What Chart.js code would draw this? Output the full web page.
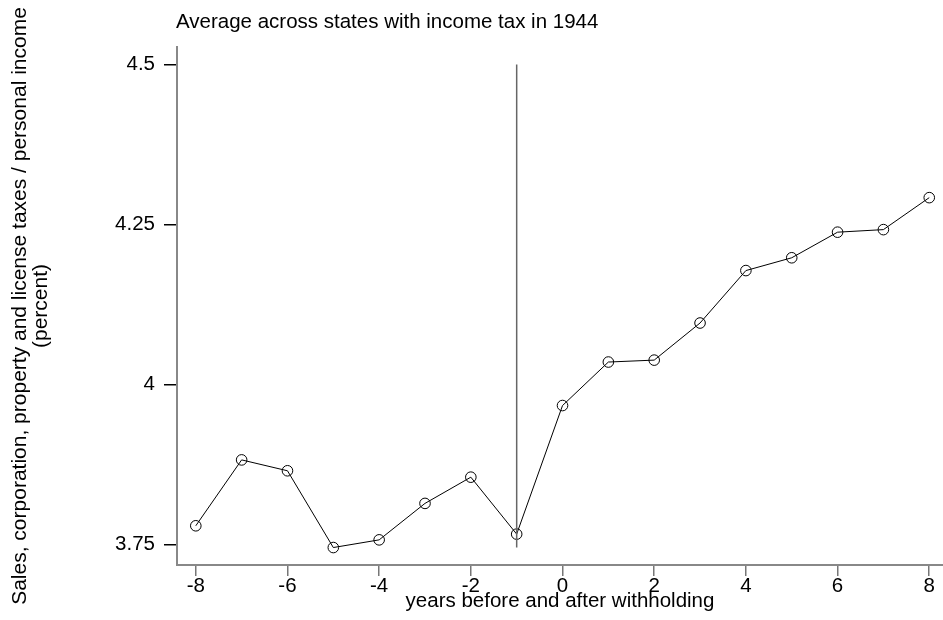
<!DOCTYPE html>
<html lang="en">

<head>
    <meta charset="UTF-8">
    <script src="https://cdn.jsdelivr.net/npm/chart.js"></script>
    <title>Other state taxes around withholding</title>
    <style>
        body { margin: 0; background: #fff; }
        #wrap { width: 943px; height: 620px; }
    </style>
</head>

<body>
    <div id="wrap">
        <canvas id="myChart" width="943" height="620"></canvas>
    </div>

    <script>
        // years relative to the introduction of withholding
        const years = [-8, -7, -6, -5, -4, -3, -2, -1, 0, 1, 2, 3, 4, 5, 6, 7, 8];
        // other taxes as percent of personal income, state average
        const otherTaxShare = [3.779, 3.882, 3.865, 3.745, 3.757, 3.814, 3.855, 3.766,
            3.967, 4.035, 4.038, 4.096, 4.178, 4.198, 4.238, 4.242, 4.292];
        const xTicks = [-8, -6, -4, -2, 0, 2, 4, 6, 8];
        const yTicks = [3.75, 4, 4.25, 4.5];
        const eventYear = -1;

        const FONT = "'Liberation Sans', Arial, sans-serif";
        const FONT_SIZE = 20.5;

        const points = years.map((x, i) => ({ x: x, y: otherTaxShare[i] }));
        // vertical marker from the lowest value up to the top tick
        const eventLine = [
            { x: eventYear, y: Math.min(...otherTaxShare) },
            { x: eventYear, y: 4.5 }
        ];

        // chart heading, left aligned with the plot area
        const headingPlugin = {
            id: 'heading',
            afterDraw(chart) {
                const ctx = chart.ctx;
                ctx.save();
                ctx.font = FONT_SIZE + 'px ' + FONT;
                ctx.fillStyle = '#000';
                ctx.textBaseline = 'middle';
                ctx.textAlign = 'left';
                ctx.fillText('Average across states with income tax in 1944', chart.chartArea.left - 1, 22);
                ctx.restore();
            }
        };

        const ctx = document.getElementById('myChart').getContext('2d');
        const myChart = new Chart(ctx, {
            type: 'scatter',
            data: {
                datasets: [{
                    label: 'withholding',
                    data: eventLine,
                    showLine: true,
                    borderColor: '#666',
                    borderWidth: 1.5,
                    pointRadius: 0
                },
                {
                    label: 'share',
                    data: points,
                    showLine: true,
                    borderColor: '#000',
                    borderWidth: 1,
                    pointStyle: 'circle',
                    pointRadius: 5.3,
                    pointBorderWidth: 1,
                    pointBorderColor: '#000',
                    pointBackgroundColor: 'rgba(0,0,0,0)'
                }]
            },
            options: {
                responsive: false,
                animation: false,
                layout: {
                    autoPadding: false,
                    padding: { top: 47, left: 0, right: 0, bottom: 0 }
                },
                plugins: {
                    legend: { display: false },
                    tooltip: { enabled: false }
                },
                scales: {
                    x: {
                        type: 'linear',
                        min: -8.41,
                        max: 8.3,
                        afterBuildTicks: (scale) => { scale.ticks = xTicks.map(v => ({ value: v })); },
                        afterFit: (scale) => { scale.height = 55; },
                        ticks: {
                            color: '#000',
                            font: { family: FONT, size: FONT_SIZE },
                            padding: -2,
                            maxRotation: 0
                        },
                        grid: {
                            drawOnChartArea: false,
                            drawTicks: true,
                            tickLength: 11,
                            color: '#777',
                            lineWidth: 1.5
                        },
                        border: { display: true, color: '#888', width: 2 },
                        title: {
                            display: true,
                            text: 'years before and after withholding',
                            color: '#000',
                            font: { family: FONT, size: FONT_SIZE, lineHeight: 1.0 },
                            padding: { top: 0, bottom: 8 }
                        }
                    },
                    y: {
                        min: 3.7177,
                        max: 4.5275,
                        afterBuildTicks: (scale) => { scale.ticks = yTicks.map(v => ({ value: v })); },
                        afterFit: (scale) => { scale.width = 177; },
                        ticks: {
                            color: '#000',
                            font: { family: FONT, size: FONT_SIZE },
                            padding: 9,
                            callback: (v) => String(v)
                        },
                        grid: {
                            drawOnChartArea: false,
                            drawTicks: true,
                            tickLength: 13,
                            color: '#000',
                            lineWidth: 1.5
                        },
                        border: { display: true, color: '#888', width: 2 },
                        title: {
                            display: true,
                            text: ['Sales, corporation, property and license taxes / personal income', '(percent)'],
                            color: '#000',
                            font: { family: FONT, size: 21, lineHeight: 1.0 },
                            padding: { top: 10, bottom: 0 }
                        }
                    }
                }
            },
            plugins: [headingPlugin]
        });
    </script>
</body>

</html>
